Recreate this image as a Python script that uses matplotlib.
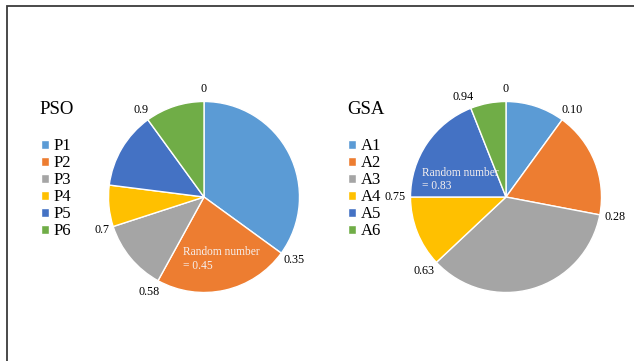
import matplotlib.pyplot as plt
import numpy as np
from matplotlib.patches import Rectangle

plt.rcParams["font.family"] = ["Liberation Serif", "DejaVu Serif"]

# cumulative boundaries of the roulette wheel (fraction of the circle)
pso_names = ["P1", "P2", "P3", "P4", "P5", "P6"]
pso_bounds = [0, 0.35, 0.58, 0.7, 0.77, 0.9, 1.0]
pso_shown = ["0", "0.35", "0.58", "0.7", None, "0.9"]
pso_rand = 0.45

gsa_names = ["A1", "A2", "A3", "A4", "A5", "A6"]
gsa_bounds = [0, 0.10, 0.28, 0.63, 0.75, 0.94, 1.0]
gsa_shown = ["0", "0.10", "0.28", "0.63", "0.75", "0.94"]
gsa_rand = 0.83

colours = ["#5B9BD5", "#ED7D31", "#A5A5A5", "#FFC000", "#4472C4", "#70AD47"]

W, H = 634, 361
fig = plt.figure(figsize=(W / 100, H / 100), dpi=100)

# outer frame, only left and top edges are inside the canvas
fig.patches.append(Rectangle((7 / W, -0.1), 1.2, (H - 6) / H + 0.1, transform=fig.transFigure,
                             fill=False, edgecolor="#3a3a3a", linewidth=1.3))


def roulette(cx, cy, r, names, bounds, shown, rand, rr, title, tx, lx):
    ax = fig.add_axes([(cx - r) / W, (H - cy - r) / H, 2 * r / W, 2 * r / H])
    sizes = np.diff(bounds)
    wedges, _ = ax.pie(sizes, colors=colours, startangle=90, counterclock=False,
                       wedgeprops=dict(edgecolor="white", linewidth=1.0))
    ax.set_xlim(-1, 1)
    ax.set_ylim(-1, 1)
    ax.set_aspect("auto")

    for b, s in zip(bounds[:-1], shown):
        if s is None:
            continue
        a = 2 * np.pi * b
        x, y = 1.13 * np.sin(a), 1.13 * np.cos(a)
        ha = "center"
        if x > 0.3:
            ha = "left"
        elif x < -0.3:
            ha = "right"
        ax.text(x if ha == "center" else x - 0.08 * np.sign(x), y, s, ha=ha, va="center",
                fontsize=8.7, clip_on=False)

    a = 2 * np.pi * rand
    ax.text(rr * np.sin(a), rr * np.cos(a) - 0.08, "Random number\n= %.2f" % rand,
            ha="center", va="center", multialignment="left", color="#f6f0ee",
            fontsize=8.3, linespacing=1.15)

    fig.text(tx / W, 1 - 109 / H, title, fontsize=13.5, ha="left", va="center")
    fig.legend(wedges, names, loc="upper left", bbox_to_anchor=(lx / W, 1 - 138 / H),
               frameon=False, fontsize=12, handlelength=0.45, handleheight=0.45,
               handletextpad=0.3, labelspacing=0.06, borderpad=0, borderaxespad=0)


roulette(204, 197, 95.5, pso_names, pso_bounds, pso_shown, pso_rand, 0.6, "PSO", 39, 41)
roulette(506, 197, 95.5, gsa_names, gsa_bounds, gsa_shown, gsa_rand, 0.55, "GSA", 347, 348)

fig.savefig("out.png", dpi=100)
